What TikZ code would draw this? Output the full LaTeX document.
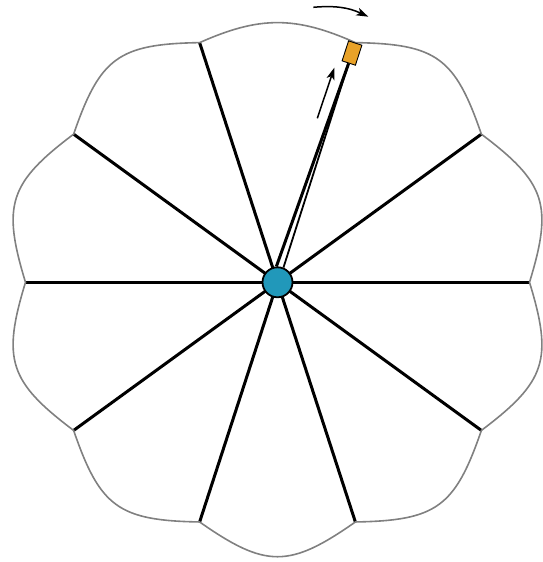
\documentclass[tikz,border=0pt]{standalone}
\usetikzlibrary{arrows.meta,calc}
\definecolor{hubteal}{RGB}{33,152,186}
\definecolor{sliderorange}{RGB}{233,162,40}
\definecolor{rimgray}{RGB}{128,128,128}
\pgfdeclarelayer{bg}
\pgfsetlayers{bg,main}
\tikzset{
  rim/.style={draw=rimgray, line width=1.6pt, line join=round},
  spoke/.style={draw=black, line width=3pt},
  thinspoke/.style={draw=black, line width=1.8pt},
  hubnode/.style={circle, fill=hubteal, draw=black, line width=1.8pt, minimum size=30pt, inner sep=0pt},
  slider/.style={rectangle, fill=sliderorange, draw=black, line width=0.9pt, minimum width=14pt, minimum height=21pt, inner sep=0pt, rotate=-18, anchor=north},
  motion/.style={draw=black, line width=1.5pt, -{Stealth[length=12pt,width=8pt,inset=3pt]}},
}
\begin{document}
\begin{tikzpicture}[x=1pt,y=1pt]
\useasboundingbox (0,0) rectangle (542,562);
\coordinate (C) at (277.5,279.7);
\foreach \i in {0,...,9} {
  \coordinate (p\i) at ($(C)+({\i*36}:252)$);
}
% rim
\draw[rim] (p0) to[out=73,in=-37,looseness=1.33] (p1)
  to[out=109,in=-1,looseness=1.33] (p2)
  to[out=156,in=24,looseness=1.08] (p3)
  to[out=181,in=71,looseness=1.33] (p4)
  to[out=217,in=107,looseness=1.33] (p5)
  to[out=253,in=143,looseness=1.33] (p6)
  to[out=289,in=179,looseness=1.33] (p7)
  to[out=325,in=215,looseness=1.33] (p8)
  to[out=1,in=251,looseness=1.33] (p9)
  to[out=37,in=287,looseness=1.33] (p0);
% hub and slider
\node[hubnode] (hub) at (C) {};
\node[slider] (slide) at (p2) {};
\begin{pgfonlayer}{bg}
  \foreach \i in {0,1,3,4,5,6,7,8,9} {
    \draw[spoke] (hub.center) -- (p\i);
  }
  \draw[spoke] (hub.94) -- (slide.south);
  \draw[thinspoke] (hub.68) -- (slide.south);
\end{pgfonlayer}
% motion arrows
\coordinate (a1) at (317.3,443.7);
\coordinate (a2) at (334.3,494.3);
\draw[motion] (a1) -- (a2);
\coordinate (b1) at (313.3,554.7);
\coordinate (b2) at (368.3,545.3);
\draw[motion] (b1) to[out=5,in=155] (b2);
\end{tikzpicture}
\end{document}
